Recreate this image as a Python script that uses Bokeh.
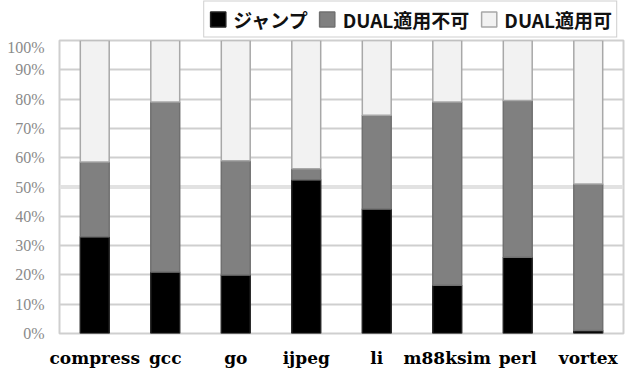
from bokeh.plotting import figure
from bokeh.layouts import column
from bokeh.models import (FactorRange, Range1d, FixedTicker, PrintfTickFormatter,
                          Legend, LegendItem, Span)
from bokeh.embed import file_html
from bokeh.resources import INLINE

categories = ["compress", "gcc", "go", "ijpeg", "li", "m88ksim", "perl", "vortex"]
jump = [33.0, 21.0, 20.0, 52.5, 42.5, 16.5, 26.0, 1.0]
dual_ng = [25.5, 58.0, 39.0, 3.7, 32.0, 62.5, 53.5, 50.0]
dual_ok = [41.5, 21.0, 41.0, 43.8, 25.5, 21.0, 20.5, 49.0]
series_names = ["ジャンプ", "DUAL適用不可", "DUAL適用可"]
y_ticks = [0, 10, 20, 30, 40, 50, 60, 70, 80, 90, 100]

fills = ["#000000", "#808080", "#f2f2f2"]
lines = ["#222222", "#707070", "#a8a8a8"]

data = dict(cat=categories, jump=jump, dual_ng=dual_ng, dual_ok=dual_ok)

# ---- legend strip (swatch renderers sit outside the visible range) ----
lg = figure(width=631, height=38, output_backend="svg", toolbar_location=None,
            x_axis_type=None, y_axis_type=None,
            x_range=Range1d(0, 1), y_range=Range1d(0, 1))
lg.min_border_left = 0
lg.min_border_right = 0
lg.min_border_top = 0
lg.min_border_bottom = 0
lg.outline_line_color = None
lg.xgrid.grid_line_color = None
lg.ygrid.grid_line_color = None
lg_items = []
for name, fc, lc in zip(series_names, fills, lines):
    r = lg.rect(x=[-5], y=[-5], width=1, height=1, fill_color=fc, line_color=lc, line_width=1.5)
    lg_items.append(LegendItem(label=name, renderers=[r]))
legend = Legend(items=lg_items, orientation="horizontal", location="center_right")
legend.label_text_font = "Noto Sans CJK JP"
legend.label_text_font_style = "bold"
legend.label_text_font_size = "19px"
legend.label_text_color = "#111111"
legend.glyph_width = 19
legend.glyph_height = 19
legend.spacing = 10
legend.label_standoff = 6
legend.padding = 4
legend.margin = 6
legend.label_height = 20
legend.border_line_color = "#a0a0a0"
legend.border_line_width = 1.5
legend.background_fill_color = "white"
lg.add_layout(legend)

# ---- main chart ----
p = figure(width=631, height=340, output_backend="svg", toolbar_location=None,
           x_range=FactorRange(*categories, range_padding=0),
           y_range=Range1d(0, 100))
p.min_border_left = 59
p.min_border_right = 8
p.min_border_top = 2
p.min_border_bottom = 45
p.background_fill_color = "white"
p.border_fill_color = "white"
p.outline_line_color = "#cfcfcf"
p.outline_line_width = 2

renderers = p.vbar_stack(["jump", "dual_ng", "dual_ok"], x="cat", width=0.41,
                         source=data, fill_color=fills, line_color=lines,
                         line_width=1.5)

p.ygrid.ticker = FixedTicker(ticks=y_ticks)
p.ygrid.grid_line_color = "#cfcfcf"
p.ygrid.grid_line_width = 2
p.xgrid.grid_line_color = None
p.ygrid.level = "underlay"

band = Span(location=50, dimension="width", line_color="#e2e2e2", line_width=4, level="underlay")
p.add_layout(band)

p.yaxis.ticker = FixedTicker(ticks=y_ticks)
p.yaxis.formatter = PrintfTickFormatter(format="%d%%")
p.yaxis.axis_line_color = None
p.yaxis.major_tick_line_color = None
p.yaxis.minor_tick_line_color = None
p.yaxis.major_label_text_color = "#8a8a8a"
p.yaxis.major_label_text_font = "Liberation Serif"
p.yaxis.major_label_text_font_size = "16px"
p.yaxis.major_label_standoff = 9

p.xaxis.axis_line_color = None
p.xaxis.major_tick_line_color = None
p.xaxis.minor_tick_line_color = None
p.xaxis.major_label_text_color = "#000000"
p.xaxis.major_label_text_font = "DejaVu Serif"
p.xaxis.major_label_text_font_style = "bold"
p.xaxis.major_label_text_font_size = "17px"
p.xaxis.major_label_standoff = 8

layout = column(lg, p, spacing=0)
open("out.html", "w").write(file_html(layout, INLINE))
